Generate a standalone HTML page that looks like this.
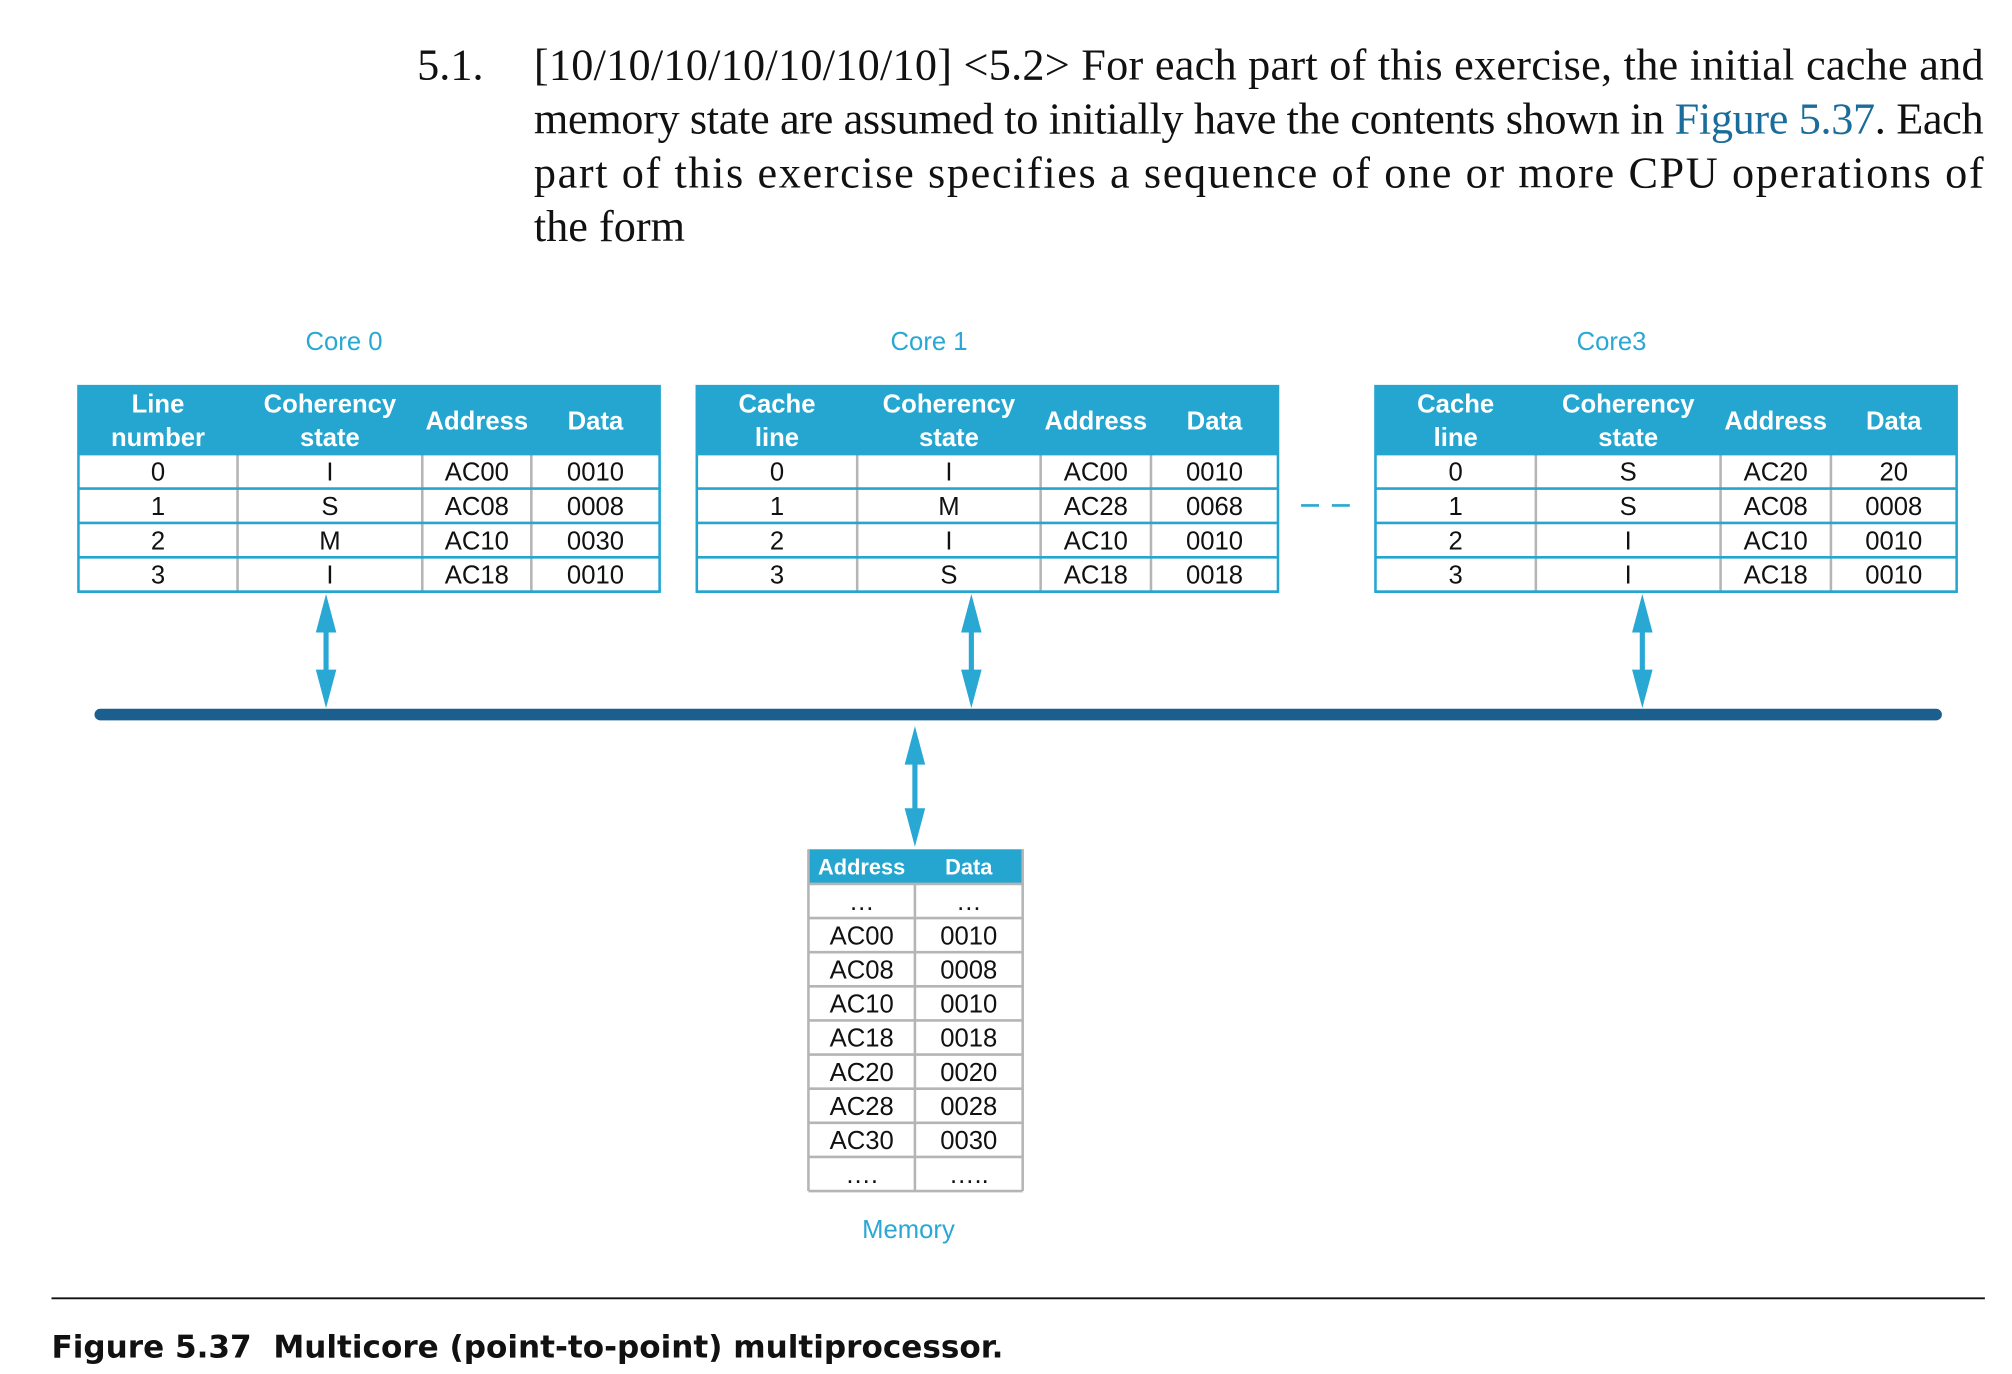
<!DOCTYPE html>
<html><head><meta charset="utf-8"><style>
html,body{margin:0;padding:0;background:#fff;}
svg{display:block;}
</style></head><body>
<svg id="fig" width="2012" height="1374" viewBox="0 0 1568 1071" xmlns="http://www.w3.org/2000/svg">
<g font-family="Liberation Serif, serif" font-size="34.5" fill="#111">
<text x="325" y="62">5.1.</text>
<text x="416" y="62" textLength="1130" lengthAdjust="spacing">[10/10/10/10/10/10/10] &lt;5.2&gt; For each part of this exercise, the initial cache and</text>
<text x="416" y="104" textLength="1130" lengthAdjust="spacing">memory state are assumed to initially have the contents shown in <tspan fill="#1a6d9a">Figure 5.37</tspan>. Each</text>
<text x="416" y="146" textLength="1130" lengthAdjust="spacing">part of this exercise specifies a sequence of one or more CPU operations of</text>
<text x="416" y="188">the form</text>
</g>
<g font-family="Liberation Sans, sans-serif" font-size="20" fill="#29a8d4" text-anchor="middle">
<text x="268" y="273">Core 0</text>
<text x="724" y="273">Core 1</text>
<text x="1256" y="273">Core3</text>
<text x="708" y="965">Memory</text>
</g>
<line x1="1014" y1="394" x2="1058" y2="394" stroke="#29a8d4" stroke-width="2" stroke-dasharray="14,10"/>
<line x1="78" y1="557" x2="1509" y2="557" stroke="#1a5f8e" stroke-width="9" stroke-linecap="round"/>
<g id="tables"></g>
<g id="arrows"></g>
<line x1="40" y1="1012" x2="1547" y2="1012" stroke="#111" stroke-width="1.5"/>
<text x="40" y="1058" font-family="DejaVu Sans, Liberation Sans, sans-serif" font-weight="bold" font-size="24" fill="#111" textLength="742" lengthAdjust="spacingAndGlyphs">Figure 5.37&#160;&#160;Multicore (point-to-point) multiprocessor.</text>
</svg>
<script>
const NS='http://www.w3.org/2000/svg';
const core0Rows=[['0','I','AC00','0010'],['1','S','AC08','0008'],['2','M','AC10','0030'],['3','I','AC18','0010']];
const core1Rows=[['0','I','AC00','0010'],['1','M','AC28','0068'],['2','I','AC10','0010'],['3','S','AC18','0018']];
const core3Rows=[['0','S','AC20','20'],['1','S','AC08','0008'],['2','I','AC10','0010'],['3','I','AC18','0010']];
const memRows=[['…','…'],['AC00','0010'],['AC08','0008'],['AC10','0010'],['AC18','0018'],['AC20','0020'],['AC28','0028'],['AC30','0030'],['….','…..']];
function mk(tag,attrs,parent){const e=document.createElementNS(NS,tag);for(const k in attrs)e.setAttribute(k,attrs[k]);parent.appendChild(e);return e;}
const T=document.getElementById('tables');
function table(name,x0,cols,headers,rows,top,hh,rh,hfs,fs){
  const g=mk('g',{},T);
  
  
  const x1=cols[cols.length-1];
  const bottom=top+hh+rows.length*rh;
  mk('rect',{x:x0,y:top,width:x1-x0,height:hh,fill:'#25a6d0'},g);
  const xs=[x0].concat(cols);
  for(let i=1;i<xs.length-1;i++) mk('line',{x1:xs[i],y1:top+hh,x2:xs[i],y2:bottom,stroke:'#b5b5b5','stroke-width':2},g);
  for(let r=0;r<=rows.length;r++){const y=top+hh+r*rh;mk('line',{x1:x0,y1:y,x2:x1,y2:y,stroke:name==='memory-table'?'#b5b5b5':'#25a6d0','stroke-width':2},g);}
  if(name!=='memory-table'){mk('rect',{x:x0,y:top,width:x1-x0,height:bottom-top,fill:'none',stroke:'#25a6d0','stroke-width':2},g);}
  else{mk('line',{x1:x0,y1:top,x2:x0,y2:bottom,stroke:'#b5b5b5','stroke-width':2},g);mk('line',{x1:x1,y1:top,x2:x1,y2:bottom,stroke:'#b5b5b5','stroke-width':2},g);}
  headers.forEach((h,i)=>{
    const cx=(xs[i]+xs[i+1])/2;
    const lines=h.split('\n');
    lines.forEach((ln,j)=>{
      const t=mk('text',{x:cx,y:top+hh/2+hfs*0.36+(j-(lines.length-1)/2)*hfs*1.3,'text-anchor':'middle','font-family':'Liberation Sans, sans-serif','font-weight':'bold','font-size':hfs,fill:'#fff'},g);
      t.textContent=ln;
    });
  });
  rows.forEach((row,r)=>{
    row.forEach((v,i)=>{
      const cx=(xs[i]+xs[i+1])/2;
      const t=mk('text',{x:cx,y:top+hh+r*rh+rh/2+fs*0.36,'text-anchor':'middle','font-family':'Liberation Sans, sans-serif','font-size':fs,fill:'#111'},g);
      
      
      t.textContent=v;
    });
  });
}
table('core0-cache-table',61,[185,329,414,514],['Line\nnumber','Coherency\nstate','Address','Data'],core0Rows,301,53,26.8,20,20);
table('core1-cache-table',543,[668,811,897,996],['Cache\nline','Coherency\nstate','Address','Data'],core1Rows,301,53,26.8,20,20);
table('core3-cache-table',1072,[1197,1341,1427,1525],['Cache\nline','Coherency\nstate','Address','Data'],core3Rows,301,53,26.8,20,20);
table('memory-table',630,[713,797],['Address','Data'],memRows,662,27,26.6,17,20);
const A=document.getElementById('arrows');
function arrow(name,x,y1,y2){
  const g=mk('g',{},A);
  
  
  mk('line',{x1:x,y1:y1+20,x2:x,y2:y2-20,stroke:'#29a8d4','stroke-width':4},g);
  mk('polygon',{points:`${x},${y1} ${x-8},${y1+30} ${x+8},${y1+30}`,fill:'#29a8d4'},g);
  mk('polygon',{points:`${x},${y2} ${x-8},${y2-30} ${x+8},${y2-30}`,fill:'#29a8d4'},g);
}
arrow('core0-bus-arrow',254,463,552);
arrow('core1-bus-arrow',757,463,552);
arrow('core3-bus-arrow',1280,463,552);
arrow('memory-bus-arrow',713,566,660);
</script>
</body></html>
